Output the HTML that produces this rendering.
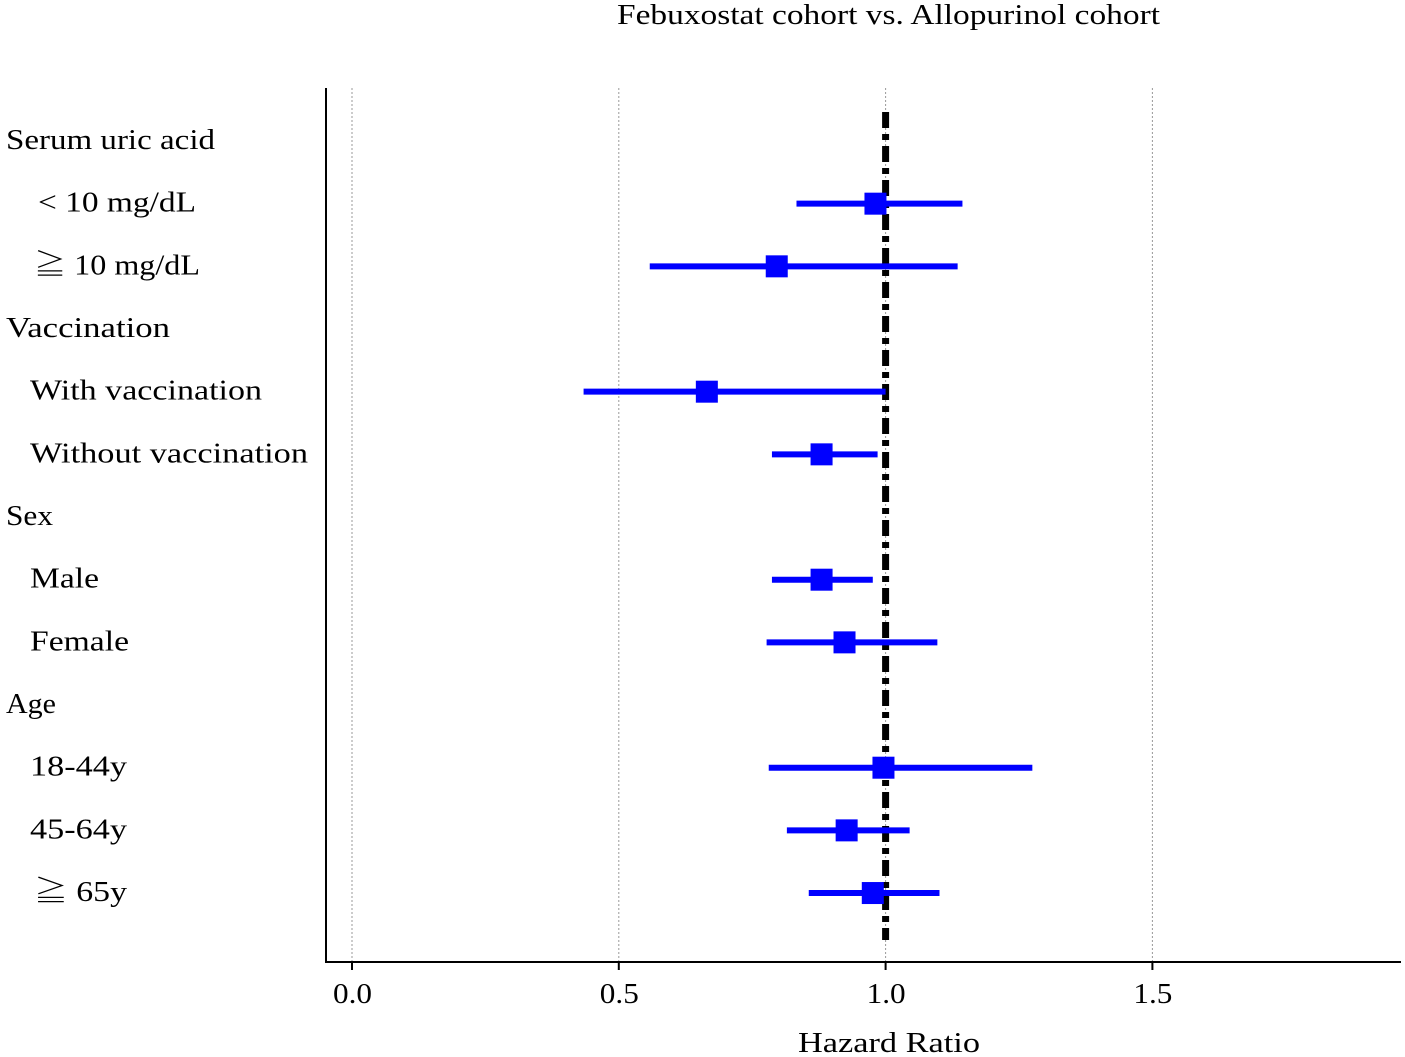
<!DOCTYPE html>
<html><head><meta charset="utf-8"><style>
body{margin:0;background:#fff;}
svg{display:block;font-family:"Liberation Serif","Noto Serif CJK SC",serif;}
</style></head><body>
<svg id="chart" width="1405" height="1057">
<text x="617" y="24" font-size="29" textLength="543" lengthAdjust="spacingAndGlyphs" fill="#000">Febuxostat cohort vs. Allopurinol cohort</text>
<g id="grid"></g>
<line x1="326" y1="88" x2="326" y2="963" stroke="#000" stroke-width="2"/>
<line x1="325" y1="962" x2="1401" y2="962" stroke="#000" stroke-width="2"/>
<g id="ticks"></g>
<text x="798" y="1052" font-size="29" textLength="182" lengthAdjust="spacingAndGlyphs">Hazard Ratio</text>
<g id="labels"></g>
<g id="refg"></g>
<g id="marks"></g>
</svg>
<script>
const labels=["Serum uric acid","< 10 mg/dL","≧ 10 mg/dL","Vaccination","With vaccination","Without vaccination","Sex","Male","Female","Age","18-44y","45-64y","≧ 65y"];
const hr=[null,0.981,0.796,null,0.665,0.880,null,0.880,0.923,null,0.996,0.927,0.976];
const lower=[null,0.833,0.558,null,0.434,0.787,null,0.787,0.777,null,0.781,0.815,0.856];
const upper=[null,1.144,1.135,null,1.000,0.985,null,0.976,1.097,null,1.275,1.045,1.101];
const ticks=[0,0.5,1,1.5];
const tickLabels=["0.0","0.5","1.0","1.5"];
const refValue=1.0;
const labelLeft=[6,38,34,6,30,30,6,30,30,6,30,30,34];
const labelRight=[215,196,200,170,262,308,53,99,129,56,127,127,127];
const NS="http://www.w3.org/2000/svg";
const x=v=>352+v*533.6;
const y=i=>140+i*62.67;
function mk(tag,attrs,parent,text){const e=document.createElementNS(NS,tag);for(const k in attrs)e.setAttribute(k,attrs[k]);if(text!==undefined)e.textContent=text;document.getElementById(parent).appendChild(e);return e;}
ticks.forEach((t,i)=>{
 const g=mk("line",{x1:x(t),x2:x(t),y1:88,y2:962,stroke:"#999","stroke-width":1,"stroke-dasharray":"2,2"},"grid");
 
 
 const tk=mk("line",{x1:x(t),x2:x(t),y1:962,y2:970,stroke:"#000","stroke-width":2},"ticks");
 
 
 const tl=mk("text",{x:x(t)-19,y:1003,"font-size":28,textLength:39,lengthAdjust:"spacingAndGlyphs"},"ticks",tickLabels[i]);
 
 
});
labels.forEach((l,i)=>{
 const t=mk("text",{x:labelLeft[i],y:y(i)+9,"font-size":29,textLength:labelRight[i]-labelLeft[i],lengthAdjust:"spacingAndGlyphs"},"labels",l);
 
 
});
const ref=mk("line",{x1:x(refValue),x2:x(refValue),y1:112,y2:940,stroke:"#000","stroke-width":7,"stroke-dasharray":"16,6,6,6"},"refg");


hr.forEach((v,i)=>{
 if(v===null)return;
 const ci=mk("line",{x1:x(lower[i]),x2:x(upper[i]),y1:y(i)+1,y2:y(i)+1,stroke:"#0000ff","stroke-width":6},"marks");
 
 
 const sq=mk("rect",{x:x(v)-11,y:y(i)-10,width:22,height:22,fill:"#0000ff"},"marks");
 
 
});
</script>
</body></html>
